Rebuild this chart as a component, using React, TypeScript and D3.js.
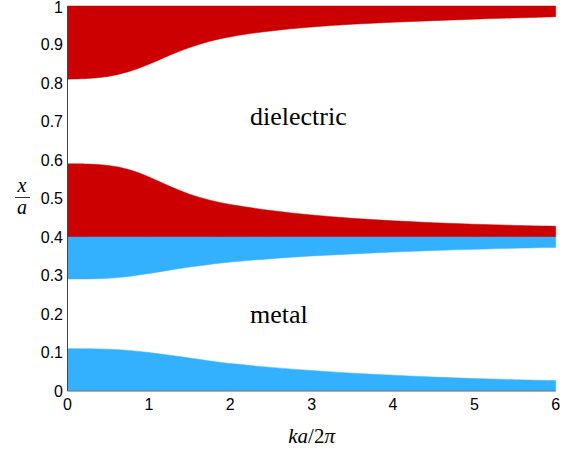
import React from "react";
import * as d3 from "d3";

// ka/2pi sample points
const kVals = [0, 0.25, 0.5, 0.75, 1, 1.25, 1.5, 1.75, 2, 2.5, 3, 3.5, 4, 4.5, 5, 5.5, 6];
// dielectric bands (red)
const topBandLow = [0.81, 0.811, 0.816, 0.828, 0.848, 0.872, 0.893, 0.909, 0.921, 0.936, 0.946, 0.953, 0.958, 0.962, 0.966, 0.969, 0.972];
const midBandTop = [0.59, 0.59, 0.587, 0.577, 0.557, 0.532, 0.51, 0.495, 0.484, 0.468, 0.457, 0.448, 0.442, 0.437, 0.433, 0.43, 0.428];
// metal bands (blue)
const upperBlueLow = [0.291, 0.291, 0.292, 0.297, 0.305, 0.314, 0.322, 0.329, 0.335, 0.344, 0.351, 0.356, 0.361, 0.365, 0.368, 0.371, 0.373];
const lowerBlueTop = [0.11, 0.11, 0.109, 0.106, 0.1, 0.093, 0.086, 0.078, 0.071, 0.061, 0.053, 0.046, 0.041, 0.036, 0.032, 0.029, 0.027];

const xTicks = [0, 1, 2, 3, 4, 5, 6];
const yTicks = [0, 0.1, 0.2, 0.3, 0.4, 0.5, 0.6, 0.7, 0.8, 0.9, 1];

const red = "#cc0000";
const blue = "#33b1ff";
const tickFont = "'Liberation Sans', Arial, Helvetica, sans-serif";
const texFont = "'Liberation Serif', 'Times New Roman', serif";

export default function App() {
  const width = 575;
  const height = 452;

  const x = d3.scaleLinear().domain([0, 6]).range([67.5, 555.7]);
  const y = d3.scaleLinear().domain([0, 1]).range([391, 6]);

  const band = (lo: (i: number) => number, hi: (i: number) => number) =>
    d3
      .area<number>()
      .x((d) => x(d))
      .y0((d, i) => y(lo(i)))
      .y1((d, i) => y(hi(i)))
      .curve(d3.curveBasis)(kVals) || "";

  const bands = [
    { d: band((i) => topBandLow[i], () => 1), fill: red },
    { d: band(() => 0.4, (i) => midBandTop[i]), fill: red },
    { d: band((i) => upperBlueLow[i], () => 0.4), fill: blue },
    { d: band(() => 0, (i) => lowerBlueTop[i]), fill: blue },
  ];

  return (
    <svg
      width={width}
      height={height}
      style={{ position: "absolute", left: 0, top: 0, background: "#fff" }}
    >
      {bands.map((b, i) => (
        <path key={i} d={b.d} fill={b.fill} stroke={b.fill} strokeWidth={0.5} />
      ))}

      {/* axes */}
      <line x1={x(0)} x2={x(0)} y1={y(1)} y2={y(0)} stroke="#444" strokeWidth={1} />
      <line x1={x(0)} x2={x(6)} y1={y(0)} y2={y(0)} stroke="#777" strokeWidth={1} />

      {yTicks.map((t) => (
        <text
          key={"y" + t}
          x={63}
          y={t === 1 ? y(t) + 1.5 : y(t)}
          dy="0.36em"
          textAnchor="end"
          fontFamily={tickFont}
          fontSize={16}
          fill="#000"
        >
          {d3.format("~g")(t)}
        </text>
      ))}

      {xTicks.map((t) => (
        <text
          key={"x" + t}
          x={x(t)}
          y={410}
          textAnchor="middle"
          fontFamily={tickFont}
          fontSize={16}
          fill="#000"
        >
          {t}
        </text>
      ))}

      {/* axis labels */}
      <text x={(x(0) + x(6)) / 2} y={443} textAnchor="middle" fontFamily={texFont} fontSize={21} fill="#000">
        <tspan fontStyle="italic">ka</tspan>
        <tspan>/2</tspan>
        <tspan fontStyle="italic">π</tspan>
      </text>
      <text x={22} y={192} textAnchor="middle" fontFamily={texFont} fontSize={20} fontStyle="italic" fill="#000">
        x
      </text>
      <line x1={15} x2={30} y1={197.5} y2={197.5} stroke="#000" strokeWidth={0.8} />
      <text x={22} y={214} textAnchor="middle" fontFamily={texFont} fontSize={20} fontStyle="italic" fill="#000">
        a
      </text>

      {/* region annotations */}
      <text x={250} y={125} fontFamily={texFont} fontSize={26} fill="#000">
        dielectric
      </text>
      <text x={250} y={323} fontFamily={texFont} fontSize={26} fill="#000">
        metal
      </text>
    </svg>
  );
}
